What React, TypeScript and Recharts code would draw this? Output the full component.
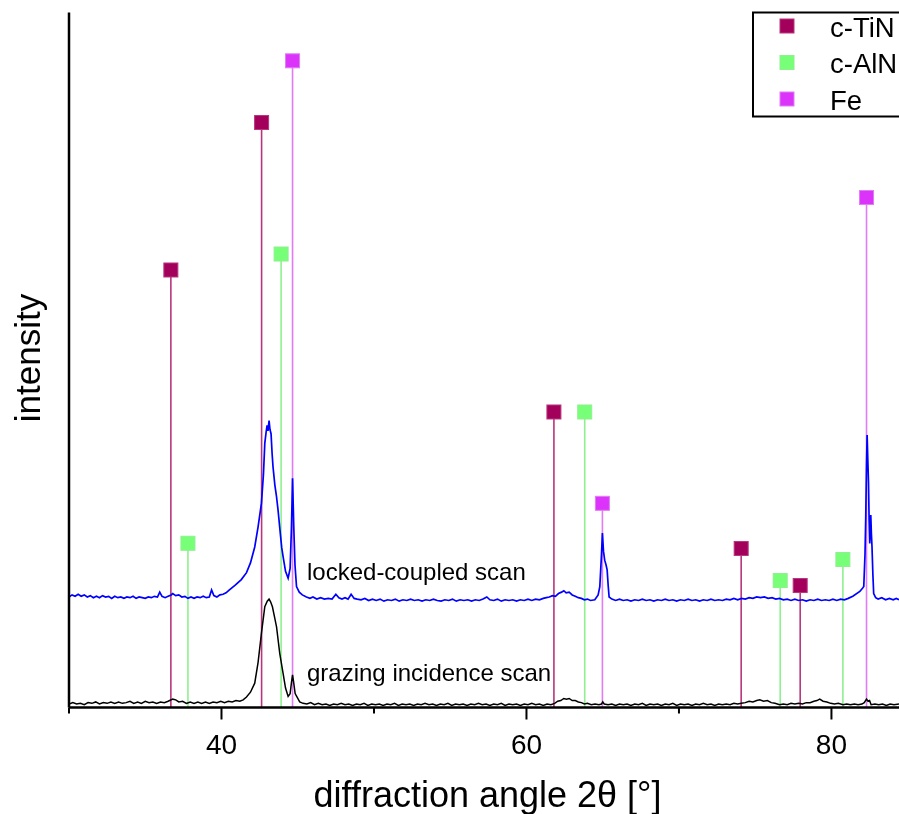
import React from 'react';
import { ComposedChart, Line, Scatter, XAxis, YAxis, ReferenceLine } from 'recharts';

// ---- data ----
const xTicks = [30, 40, 50, 60, 70, 80];
const majorTicks = [40, 60, 80];

const lockedCoupled = [
  [30.0, 15.9], [30.2, 16.2], [30.4, 16.0], [30.6, 16.3], [30.8, 16.0], [31.0, 16.2], [31.2, 15.9], [31.4, 16.1],
  [31.6, 15.8], [31.8, 16.0], [32.0, 15.8], [32.2, 16.1], [32.4, 15.9], [32.6, 16.0], [32.8, 15.7], [33.0, 16.0],
  [33.2, 15.8], [33.4, 15.9], [33.6, 15.7], [33.8, 15.9], [34.0, 15.8], [34.2, 16.0], [34.4, 15.7], [34.6, 15.9],
  [34.8, 15.8], [35.0, 15.7], [35.2, 15.9], [35.4, 15.8], [35.6, 16.0], [35.8, 15.9], [35.95, 16.6], [36.1, 16.0],
  [36.3, 15.8], [36.5, 16.0], [36.7, 16.2], [36.8, 16.4], [37.0, 16.1], [37.2, 16.2], [37.4, 15.9], [37.6, 16.0],
  [37.8, 15.7], [38.0, 15.9], [38.2, 15.7], [38.4, 15.9], [38.6, 15.8], [38.8, 16.0], [39.0, 15.8], [39.2, 15.9],
  [39.35, 16.9], [39.5, 16.1], [39.7, 15.9], [39.9, 16.2], [40.1, 16.3], [40.3, 16.5], [40.5, 16.9],
  [40.9, 17.6], [41.3, 18.4], [41.64, 19.4], [41.9, 20.8], [42.18, 23.1], [42.4, 26.0], [42.62, 29.4], [42.75, 33.5],
  [42.84, 38.0], [42.92, 39.5], [42.99, 40.6], [43.05, 39.8], [43.12, 41.3], [43.18, 40.0], [43.25, 39.4], [43.32, 36.5],
  [43.38, 34.6], [43.5, 32.0], [43.6, 30.5], [43.71, 28.4], [43.85, 25.2], [43.95, 23.0], [44.04, 21.7], [44.2, 19.6],
  [44.37, 18.6], [44.5, 20.0], [44.59, 26.0], [44.66, 33.0], [44.74, 26.0], [44.82, 20.5], [44.92, 17.4], [45.1, 16.6],
  [45.3, 16.2], [45.57, 15.9], [45.8, 15.7], [46.0, 15.9], [46.25, 15.6], [46.5, 15.8], [46.75, 15.6], [47.0, 15.7],
  [47.25, 15.6], [47.5, 16.3], [47.7, 15.8], [47.9, 15.6], [48.1, 15.8], [48.3, 15.6], [48.5, 16.3], [48.7, 15.7],
  [48.9, 15.6], [49.15, 15.5], [49.4, 15.7], [49.65, 15.4], [49.9, 15.6], [50.15, 15.4], [50.4, 15.6], [50.65, 15.3],
  [50.9, 15.5], [51.15, 15.4], [51.4, 15.6], [51.65, 15.3], [51.9, 15.5], [52.15, 15.4], [52.4, 15.6], [52.65, 15.4],
  [52.9, 15.5], [53.15, 15.3], [53.4, 15.5], [53.65, 15.4], [53.9, 15.6], [54.15, 15.4], [54.4, 15.3], [54.65, 15.5],
  [54.9, 15.4], [55.15, 15.6], [55.4, 15.3], [55.65, 15.5], [55.9, 15.4], [56.15, 15.5], [56.4, 15.3], [56.65, 15.5],
  [56.9, 15.4], [57.15, 15.6], [57.4, 15.9], [57.6, 15.5], [57.85, 15.4], [58.1, 15.6], [58.35, 15.3], [58.6, 15.5],
  [58.85, 15.4], [59.1, 15.5], [59.35, 15.3], [59.6, 15.5], [59.85, 15.4], [60.1, 15.6], [60.35, 15.4], [60.6, 15.6],
  [60.85, 15.5], [61.1, 15.7], [61.3, 15.8], [61.5, 15.9], [61.7, 16.1], [61.9, 16.0], [62.1, 16.4], [62.3, 16.6],
  [62.45, 16.8], [62.6, 16.5], [62.8, 16.6], [63.0, 16.2], [63.2, 16.0], [63.4, 15.8], [63.6, 15.7], [63.8, 15.5],
  [64.0, 15.6], [64.2, 15.4], [64.48, 15.5], [64.7, 16.2],
  [64.81, 17.4], [64.92, 22.0], [64.98, 25.1], [65.05, 22.5], [65.13, 21.2], [65.22, 20.5], [65.29, 19.8], [65.36, 17.5],
  [65.42, 15.9], [65.6, 15.6], [65.85, 15.4], [66.1, 15.6], [66.35, 15.4], [66.6, 15.5], [66.85, 15.3], [67.1, 15.5],
  [67.35, 15.4], [67.6, 15.6], [67.85, 15.4], [68.1, 15.5], [68.35, 15.3], [68.6, 15.5], [68.85, 15.4], [69.1, 15.6],
  [69.35, 15.4], [69.6, 15.5], [69.85, 15.3], [70.1, 15.5], [70.35, 15.4], [70.6, 15.6], [70.85, 15.4], [71.1, 15.5],
  [71.35, 15.3], [71.6, 15.5], [71.85, 15.4], [72.1, 15.6], [72.35, 15.4], [72.6, 15.5], [72.85, 15.4], [73.1, 15.6],
  [73.35, 15.5], [73.6, 15.7], [73.85, 15.5], [74.1, 15.7], [74.35, 15.6], [74.6, 15.8], [74.85, 15.7], [75.1, 15.9],
  [75.35, 15.8], [75.6, 15.9], [75.85, 15.7], [76.1, 15.8], [76.35, 15.6], [76.6, 15.7], [76.85, 15.5], [77.1, 15.6],
  [77.35, 15.4], [77.6, 15.6], [77.85, 15.4], [78.1, 15.5], [78.35, 15.3], [78.6, 15.5], [78.85, 15.4], [79.1, 15.6],
  [79.35, 15.4], [79.6, 15.5], [79.85, 15.4], [80.1, 15.6], [80.35, 15.4], [80.6, 15.6], [80.85, 15.5], [81.1, 15.7],
  [81.4, 16.0], [81.86, 16.7],
  [82.05, 17.2], [82.12, 17.4], [82.2, 22.0], [82.25, 27.5], [82.3, 35.0], [82.34, 39.2], [82.38, 36.0], [82.43, 32.3],
  [82.47, 27.0], [82.51, 23.6], [82.55, 25.5], [82.58, 27.7], [82.62, 25.0], [82.66, 23.1], [82.72, 19.0], [82.77, 16.4],
  [82.9, 15.8], [83.06, 15.6], [83.3, 15.8], [83.55, 15.5], [83.8, 15.7], [84.05, 15.5], [84.25, 15.7], [84.43, 15.5],
];

const grazing = [
  [30.0, 0.5], [30.25, 0.7], [30.5, 0.5], [30.75, 0.6], [31.0, 0.4], [31.25, 0.7], [31.5, 0.6], [31.75, 0.8],
  [32.0, 0.5], [32.25, 0.7], [32.5, 0.6], [32.75, 0.8], [33.0, 0.6], [33.25, 0.8], [33.5, 0.6], [33.75, 0.7],
  [34.0, 0.9], [34.25, 0.6], [34.5, 0.8], [34.75, 0.6], [35.0, 0.9], [35.25, 0.7], [35.5, 0.8], [35.75, 0.6],
  [36.0, 0.8], [36.25, 0.7], [36.5, 0.9], [36.8, 1.2], [37.0, 1.1], [37.2, 0.8], [37.45, 0.9], [37.7, 0.6],
  [37.95, 0.8], [38.2, 0.6], [38.45, 0.8], [38.7, 0.6], [38.95, 0.8], [39.2, 0.6], [39.45, 0.8], [39.7, 0.7],
  [39.95, 0.9], [40.2, 0.7], [40.45, 0.9], [40.7, 0.8], [40.95, 1.0], [41.2, 0.9], [41.42, 1.1],
  [41.64, 1.5], [41.9, 2.2], [42.18, 3.5], [42.4, 6.5], [42.62, 10.7], [42.84, 14.5],
  [43.0, 15.3], [43.12, 15.6], [43.22, 15.2], [43.34, 14.5], [43.5, 12.8], [43.61, 11.6], [43.82, 7.8], [44.04, 4.9],
  [44.2, 2.8], [44.37, 1.6], [44.5, 2.0], [44.6, 3.8], [44.66, 4.7], [44.74, 3.5], [44.83, 2.0], [45.13, 0.8],
  [45.35, 0.6], [45.6, 0.5], [45.85, 0.7], [46.1, 0.4], [46.35, 0.6], [46.6, 0.4], [46.85, 0.5], [47.1, 0.3],
  [47.35, 0.5], [47.6, 0.4], [47.85, 0.6], [48.1, 0.4], [48.35, 0.5], [48.6, 0.3], [48.85, 0.5], [49.1, 0.4],
  [49.35, 0.6], [49.6, 0.3], [49.85, 0.5], [50.1, 0.4], [50.35, 0.5], [50.6, 0.3], [50.85, 0.5], [51.1, 0.4],
  [51.35, 0.6], [51.6, 0.3], [51.85, 0.5], [52.1, 0.4], [52.35, 0.5], [52.6, 0.3], [52.85, 0.5], [53.1, 0.4],
  [53.35, 0.6], [53.6, 0.4], [53.85, 0.5], [54.1, 0.3], [54.35, 0.5], [54.6, 0.4], [54.85, 0.6], [55.1, 0.3],
  [55.35, 0.5], [55.6, 0.4], [55.85, 0.5], [56.1, 0.3], [56.35, 0.5], [56.6, 0.4], [56.85, 0.6], [57.1, 0.4],
  [57.35, 0.5], [57.6, 0.3], [57.85, 0.5], [58.1, 0.4], [58.35, 0.6], [58.6, 0.3], [58.85, 0.5], [59.1, 0.4],
  [59.35, 0.5], [59.6, 0.3], [59.85, 0.5], [60.1, 0.4], [60.35, 0.6], [60.6, 0.4], [60.85, 0.5], [61.1, 0.3],
  [61.35, 0.5], [61.6, 0.4], [61.85, 0.6], [62.05, 0.9], [62.25, 1.0], [62.45, 1.3], [62.62, 1.2], [62.8, 1.3],
  [63.0, 1.0], [63.2, 1.0], [63.4, 0.8], [63.6, 0.7], [63.8, 0.5], [64.0, 0.6], [64.25, 0.4], [64.5, 0.5],
  [64.75, 0.4], [64.92, 0.5], [65.0, 0.8], [65.1, 0.5], [65.35, 0.4], [65.6, 0.5], [65.85, 0.3], [66.1, 0.5],
  [66.35, 0.4], [66.6, 0.5], [66.85, 0.3], [67.1, 0.5], [67.35, 0.4], [67.6, 0.6], [67.85, 0.3], [68.1, 0.5],
  [68.35, 0.4], [68.6, 0.5], [68.85, 0.3], [69.1, 0.5], [69.35, 0.4], [69.6, 0.6], [69.85, 0.3], [70.1, 0.5],
  [70.35, 0.4], [70.6, 0.5], [70.85, 0.3], [71.1, 0.5], [71.35, 0.4], [71.6, 0.6], [71.85, 0.4], [72.1, 0.5],
  [72.35, 0.3], [72.6, 0.5], [72.85, 0.4], [73.1, 0.5], [73.35, 0.4], [73.6, 0.6], [73.85, 0.5], [74.1, 0.6],
  [74.35, 0.7], [74.6, 0.9], [74.85, 0.8], [75.1, 1.0], [75.3, 1.1], [75.55, 0.9], [75.8, 1.0], [76.05, 0.7],
  [76.3, 0.6], [76.6, 0.4], [76.85, 0.5], [77.1, 0.4], [77.35, 0.6], [77.6, 0.5], [77.85, 0.6], [78.1, 0.5],
  [78.35, 0.7], [78.6, 0.7], [78.85, 0.9], [79.05, 1.0], [79.23, 1.2], [79.45, 0.9], [79.7, 0.8], [79.95, 0.6],
  [80.2, 0.5], [80.45, 0.6], [80.76, 0.4], [81.0, 0.5], [81.25, 0.4], [81.5, 0.5], [81.75, 0.4], [82.0, 0.5],
  [82.15, 0.7], [82.3, 1.2], [82.4, 0.9], [82.5, 1.0], [82.6, 0.4], [82.85, 0.5], [83.1, 0.4], [83.35, 0.5],
  [83.6, 0.3], [83.85, 0.5], [84.1, 0.4], [84.43, 0.5],
];

const tinPositions = [36.68, 42.63, 61.8, 74.08, 77.95];
const tinHeights = [62.95, 84.17, 42.52, 22.88, 17.55];
const alnPositions = [37.8, 43.91, 63.82, 76.64, 80.75];
const alnHeights = [23.63, 65.25, 42.52, 18.27, 21.29];
const fePositions = [44.66, 64.98, 82.3];
const feHeights = [93.05, 29.38, 73.38];

const phaseNames = ['c-TiN', 'c-AlN', 'Fe'];
const xLabel = 'diffraction angle 2θ [°]';
const yLabel = 'intensity';
const scanLabels = ['locked-coupled scan', 'grazing incidence scan'];

// ---- styling ----
const FONT = '"Liberation Sans", Arial, sans-serif';
const squareColors = ['#A3005C', '#77FF77', '#DC33FA'];
const stickColors = ['#B8357D', '#8FF08F', '#E07CF4'];

const toPts = (arr: number[][]) => arr.map(([x, y]) => ({ x, y }));
const zipPeaks = (xs: number[], ys: number[]) => xs.map((x, i) => ({ x, y: ys[i] }));

const phases = [
  { name: phaseNames[0], peaks: zipPeaks(tinPositions, tinHeights), square: squareColors[0], stick: stickColors[0] },
  { name: phaseNames[1], peaks: zipPeaks(alnPositions, alnHeights), square: squareColors[1], stick: stickColors[1] },
  { name: phaseNames[2], peaks: zipPeaks(fePositions, feHeights), square: squareColors[2], stick: stickColors[2] },
];

const W = 891;
const H = 806;

const XTick = (props: any) => {
  const { x, y, payload } = props;
  const major = majorTicks.includes(payload.value);
  return (
    <g>
      <line x1={x} x2={x} y1={y} y2={y + (major ? 12 : 6)} stroke="#000" strokeWidth={2} />
      {major && (
        <text x={x} y={y + 46} textAnchor="middle" fontFamily={FONT} fontSize={28} fill="#000">
          {payload.value}
        </text>
      )}
    </g>
  );
};

const makeSquare = (fill: string, stroke: string) => (props: any) => {
  const { cx, cy } = props;
  if (cx == null || cy == null) return <g />;
  return <rect x={cx - 7} y={cy - 7} width={14} height={14} fill={fill} stroke={stroke} strokeWidth={1} />;
};

export default function App() {
  return (
    <div style={{ position: 'fixed', left: 8, top: 8, width: W, height: H, overflow: 'hidden' }}>
      <style>{'html,body{overflow:hidden;}'}</style>
      <ComposedChart width={W} height={H} margin={{ top: 4.5, right: 0, bottom: 6.5, left: 0 }}>
        <XAxis
          xAxisId={0}
          dataKey="x"
          type="number"
          domain={[30, 84.43]}
          allowDataOverflow
          ticks={xTicks}
          interval={0}
          height={100}
          tickSize={0}
          tickMargin={0}
          tickLine={false}
          axisLine={{ stroke: '#000', strokeWidth: 2.5 }}
          tick={<XTick />}
        />
        <XAxis
          xAxisId="top"
          orientation="top"
          type="number"
          domain={[30, 84.43]}
          allowDataOverflow
          height={0}
          tick={false}
          tickLine={false}
          axisLine={{ stroke: '#000', strokeWidth: 2 }}
        />
        <YAxis
          dataKey="y"
          type="number"
          domain={[0, 100]}
          allowDataOverflow
          width={61}
          tick={false}
          tickLine={false}
          axisLine={{ stroke: '#000', strokeWidth: 2.5 }}
        />
        {phases.map((ph) =>
          ph.peaks.map((p, i) => (
            <ReferenceLine
              key={ph.name + i}
              segment={[{ x: p.x, y: 0 }, { x: p.x, y: p.y }]}
              stroke={ph.stick}
              strokeWidth={1.6}
              ifOverflow="visible"
            />
          ))
        )}
        <Line
          data={toPts(grazing)}
          dataKey="y"
          type="linear"
          stroke="#000"
          strokeWidth={1.5}
          dot={false}
          isAnimationActive={false}
        />
        <Line
          data={toPts(lockedCoupled)}
          dataKey="y"
          type="linear"
          stroke="#0000FF"
          strokeWidth={1.7}
          dot={false}
          isAnimationActive={false}
        />
        {phases.map((ph) => (
          <Scatter
            key={ph.name}
            name={ph.name}
            data={ph.peaks}
            dataKey="y"
            shape={makeSquare(ph.square, ph.stick)}
            isAnimationActive={false}
          />
        ))}
      </ComposedChart>
      <svg
        width={W}
        height={H}
        style={{ position: 'absolute', left: 0, top: 0, pointerEvents: 'none', overflow: 'hidden' }}
      >
        <text x={299} y={572} fontFamily={FONT} fontSize={24} fill="#000">{scanLabels[0]}</text>
        <text x={299} y={673} fontFamily={FONT} fontSize={24} fill="#000">{scanLabels[1]}</text>
        <text x={479.5} y={799} textAnchor="middle" fontFamily={FONT} fontSize={36} fill="#000">{xLabel}</text>
        <text
          x={32}
          y={350}
          textAnchor="middle"
          transform="rotate(-90 32 350)"
          fontFamily={FONT}
          fontSize={35}
          fill="#000"
        >
          {yLabel}
        </text>
        <rect x={745} y={4.5} width={180} height={104} fill="#fff" stroke="#000" strokeWidth={2} />
        {phases.map((ph, i) => (
          <g key={ph.name}>
            <rect x={772} y={11 + i * 36.5} width={14} height={14} fill={ph.square} stroke={ph.stick} strokeWidth={1} />
            <text x={822} y={28.5 + i * 36.5} fontFamily={FONT} fontSize={27.5} fill="#000">{ph.name}</text>
          </g>
        ))}
      </svg>
    </div>
  );
}
